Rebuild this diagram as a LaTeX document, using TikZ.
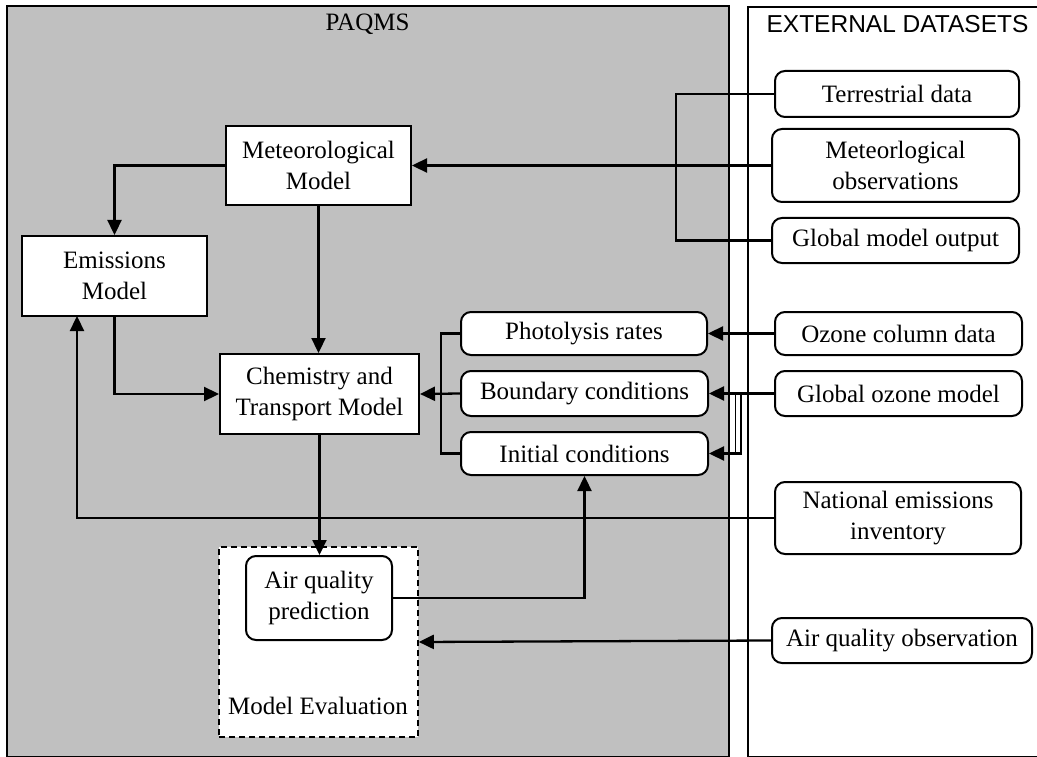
\documentclass[tikz,border=0pt]{standalone}
\usepackage{fontspec}
\setmainfont{Liberation Serif}
\newfontfamily\headsans{Liberation Sans}
\usetikzlibrary{arrows.meta}
\definecolor{panelgray}{RGB}{192,192,192}
\begin{document}
\begin{tikzpicture}[x=1pt,y=-1pt,
  every node/.style={font=\fontsize{25}{31.5}\selectfont, inner sep=0pt, align=center},
  modelbox/.style={draw, line width=2pt, fill=white, minimum width=#1},
  databox/.style={draw, line width=2pt, fill=white, rounded corners=10pt, minimum width=#1},
  panel/.style={draw, line width=1.6pt},
  link/.style={line width=2.3pt},
  feed/.style={link, -{Triangle[length=15pt,width=14pt]}},
  title/.style={anchor=center}
]
\useasboundingbox (0,0) rectangle (1037,757);

% the two panels
\draw[panel, fill=panelgray] (7,6) rectangle (729,757);
\draw[panel, fill=white] (748,7) rectangle (1046,757);
\node[title] (paqmstitle) at (367.5,24) {PAQMS};
\node[title, font=\headsans\fontsize{24.5}{30}\selectfont] (exttitle) at (897.5,24) {EXTERNAL DATASETS};

% evaluation frame
\node[draw, dashed, dash pattern=on 6pt off 4pt, line width=1.6pt, fill=white,
      minimum width=199pt, minimum height=190pt] (evalbox) at (318.5,642) {};
\node (evallabel) at (318,706) {Model Evaluation};

% model components
\node[modelbox=185pt, minimum height=79pt] (met) at (318.5,165.5) {Meteorological\\Model};
\node[modelbox=185pt, minimum height=80pt] (emis) at (114.5,276) {Emissions\\Model};
\node[modelbox=199pt, minimum height=80pt] (chem) at (319.5,394) {Chemistry and\\Transport Model};
\node[databox=246pt, minimum height=43pt] (photo) at (584,333.5) {Photolysis rates};
\node[databox=247pt, minimum height=45pt] (bound) at (584.5,393.5) {Boundary conditions};
\node[databox=247pt, minimum height=43pt] (init) at (584.5,453.5) {Initial conditions};
\node[databox=146pt, minimum height=84pt] (aqp) at (319,598) {Air quality\\prediction};

% external datasets
\node[databox=244pt, minimum height=46pt] (terr) at (897,94) {Terrestrial data};
\node[databox=247pt, minimum height=73pt] (metobs) at (895.5,165.5) {Meteorlogical\\observations};
\node[databox=247pt, minimum height=45pt] (glob) at (895.5,240.5) {Global model output};
\node[databox=247pt, minimum height=43pt] (ozone) at (898.5,333.5) {Ozone column data};
\node[databox=247pt, minimum height=45pt] (globoz) at (898.5,393.5) {Global ozone model};
\node[databox=246pt, minimum height=72pt] (natem) at (898,518) {National emissions\\inventory};
\node[databox=260pt, minimum height=45pt] (aqobs) at (902,640.5) {Air quality observation};

% junction points
\coordinate (metbus) at (676,165.5);
\coordinate (bcbus) at (441,393.5);
\coordinate (ozfork) at (741,393.5);
\coordinate (ozstub) at (735.5,393.5);
\coordinate (ozstubend) at (735.5,452);
\coordinate (emisin) at (77,316);

% meteorological inputs
\draw[feed] (metobs.west) -- (met.east);
\draw[link] (terr.west) -| (metbus) |- (glob.west);

% model chain
\draw[feed] (met.west) -| (emis.north);
\draw[feed] (met.south) -- (met.south |- chem.north);
\draw[feed] (emis.south) |- (chem.west);
\draw[feed] (bound.west) -- (chem.east);
\draw[link] (photo.west) -| (bcbus) |- (init.west);
\draw[feed] (chem.south) -- (chem.south |- aqp.north);
\draw[feed] (aqp.east) -| (init.south);

% ozone and emission inputs
\draw[feed] (ozone.west) -- (photo.east);
\draw[feed] (globoz.west) -- (bound.east);
\draw[feed] (ozfork) |- (init.east);
\draw[link, line width=1.6pt] (ozstub) -- (ozstubend);
\draw[feed] (natem.west) -| (emisin);
\draw[feed] (aqobs.west) -- (evalbox.east);
\end{tikzpicture}
\end{document}
